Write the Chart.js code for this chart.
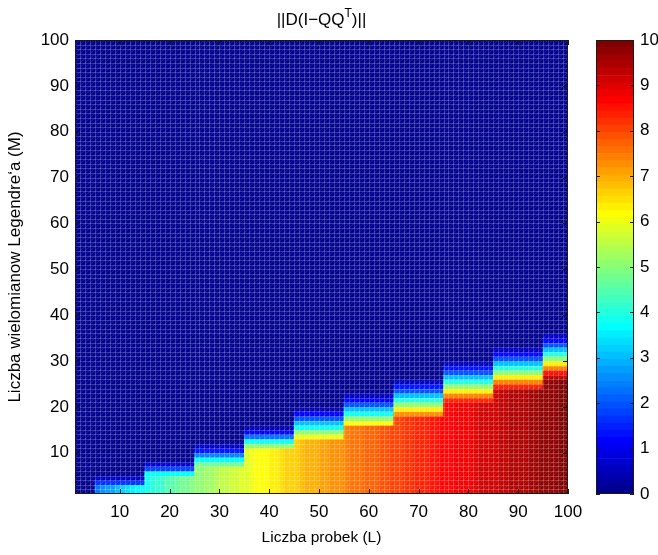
<!DOCTYPE html>
<html lang="pl">
<head>
<meta charset="UTF-8">
<title>||D(I-QQ^T)||</title>
<script src="https://cdn.jsdelivr.net/npm/chart.js"></script>
<style>
  body { margin: 0; background: #fff; }
  #wrap { position: relative; width: 658px; height: 555px; }
  #main { position: absolute; left: 0; top: 0; }
  #cbar { position: absolute; left: 580px; top: 0; }
</style>
</head>
<body>
<div id="wrap">
  <canvas id="main" width="658" height="555"></canvas>
  <canvas id="cbar" width="78" height="555"></canvas>
</div>
<script>
// tick labels
const xTicks = [10, 20, 30, 40, 50, 60, 70, 80, 90, 100];
const yTicks = [10, 20, 30, 40, 50, 60, 70, 80, 90, 100];
const cbTicks = [0, 1, 2, 3, 4, 5, 6, 7, 8, 9, 10];

// norm level reached in the filled part of each column L = 1..100
const colLevel = [
  0, 0, 0, 0, 2.3, 2.5, 2.7, 2.8, 3.0, 3.2,
  3.3, 3.5, 3.6, 3.7, 3.9, 4.0, 4.1, 4.2, 4.4, 4.5,
  4.6, 4.7, 4.8, 4.9, 5.0, 5.1, 5.2, 5.3, 5.4, 5.5,
  5.6, 5.7, 5.7, 5.8, 5.9, 6.0, 6.1, 6.2, 6.2, 6.3,
  6.4, 6.5, 6.6, 6.6, 6.7, 6.8, 6.9, 6.9, 7.0, 7.1,
  7.1, 7.2, 7.3, 7.3, 7.4, 7.5, 7.5, 7.6, 7.7, 7.7,
  7.8, 7.9, 7.9, 8.0, 8.1, 8.1, 8.2, 8.2, 8.3, 8.4,
  8.4, 8.5, 8.5, 8.6, 8.7, 8.7, 8.8, 8.8, 8.9, 8.9,
  9.0, 9.1, 9.1, 9.2, 9.2, 9.3, 9.3, 9.4, 9.4, 9.5,
  9.5, 9.6, 9.6, 9.7, 9.7, 9.8, 9.8, 9.9, 9.9, 10.0
];

// staircase: first L of each step, highest non-zero M, and values of the top rows (top row first)
const stepFirstL = [5, 15, 25, 35, 45, 55, 65, 75, 85, 95];
const stepTopM = [4, 7, 11, 15, 19, 22, 25, 29, 32, 35];
const stepFade = [
  [0.6, 1.6],
  [0.7, 1.8, 3.7],
  [0.6, 1.4, 2.4, 3.7, 4.8],
  [0.4, 1.0, 2.2, 3.8, 5.0],
  [0.4, 1.1, 2.0, 3.0, 3.9, 5.0, 6.0],
  [0.5, 1.2, 2.0, 3.0, 3.9, 5.0, 6.2],
  [0.6, 1.3, 2.0, 3.0, 4.0, 5.0, 6.3, 7.2],
  [0.6, 1.3, 2.0, 3.0, 4.0, 5.0, 6.3, 7.4, 8.3],
  [0.5, 1.2, 2.0, 3.0, 4.0, 5.0, 6.3, 7.4, 8.4],
  [0.5, 1.2, 2.0, 3.0, 4.0, 5.0, 6.3, 7.4, 8.5, 9.3]
];

const CMIN = 0, CMAX = 10;
const FONT = "'Liberation Sans', Arial, Helvetica, sans-serif";

// MATLAB style jet colormap
function jet(m) {
  const n = Math.ceil(m / 4);
  const u = [];
  for (let i = 1; i <= n; i++) u.push(i / n);
  for (let i = 1; i < n; i++) u.push(1);
  for (let i = n; i >= 1; i--) u.push(i / n);
  const off = Math.ceil(n / 2) - (m % 4 === 1 ? 1 : 0);
  const map = Array.from({ length: m }, () => [0, 0, 0]);
  u.forEach((val, i) => {
    const g = off + i, r = g + n, b = g - n;
    if (g < m) map[g][1] = val;
    if (r < m) map[r][0] = val;
    if (b >= 0) map[b][2] = val;
  });
  return map.map(c => `rgb(${Math.round(c[0] * 255)},${Math.round(c[1] * 255)},${Math.round(c[2] * 255)})`);
}
const cmap = jet(64);
const colorFor = v => cmap[Math.max(0, Math.min(63, Math.floor((v - CMIN) / (CMAX - CMIN) * 64)))];

function cellValue(L, M) {
  let s = -1;
  stepFirstL.forEach((f, i) => { if (L >= f) s = i; });
  if (s < 0 || M > stepTopM[s]) return 0;
  const k = stepTopM[s] - M;
  const base = colLevel[L - 1];
  return k < stepFade[s].length ? Math.min(stepFade[s][k], base) : base;
}

// one face per grid square, like surf
const cells = [];
for (let L = 1; L < 100; L++) {
  for (let M = 1; M < 100; M++) {
    cells.push({ x: L + 0.5, y: [M, M + 1], v: cellValue(L, M) });
  }
}

const tickFont = { family: FONT, size: 17 };

// face edges, inward ticks and axes box
const facets = {
  id: 'facets',
  afterDatasetsDraw(chart) {
    const { ctx, chartArea: a, scales: { x, y } } = chart;
    ctx.save();
    ctx.beginPath();
    ctx.rect(a.left, a.top, a.right - a.left, a.bottom - a.top);
    ctx.clip();
    ctx.lineWidth = 1;
    ctx.strokeStyle = 'rgba(255,255,255,0.13)';
    ctx.beginPath();
    for (let i = 1; i < 100; i++) {
      for (let j = 1; j < 100; j++) {
        ctx.moveTo(x.getPixelForValue(i), y.getPixelForValue(j));
        ctx.lineTo(x.getPixelForValue(i + 1), y.getPixelForValue(j + 1));
      }
    }
    ctx.stroke();
    ctx.strokeStyle = 'rgba(255,255,255,0.2)';
    ctx.beginPath();
    for (let v = 1; v <= 100; v++) {
      const px = Math.round(x.getPixelForValue(v)) + 0.5;
      const py = Math.round(y.getPixelForValue(v)) + 0.5;
      ctx.moveTo(px, a.top); ctx.lineTo(px, a.bottom);
      ctx.moveTo(a.left, py); ctx.lineTo(a.right, py);
    }
    ctx.stroke();
    ctx.restore();

    ctx.save();
    ctx.strokeStyle = '#1a1a1a';
    ctx.lineWidth = 1;
    ctx.beginPath();
    xTicks.forEach(v => {
      const px = Math.round(x.getPixelForValue(v)) + 0.5;
      ctx.moveTo(px, a.bottom); ctx.lineTo(px, a.bottom - 5);
      ctx.moveTo(px, a.top); ctx.lineTo(px, a.top + 5);
    });
    yTicks.forEach(v => {
      const py = Math.round(y.getPixelForValue(v)) + 0.5;
      ctx.moveTo(a.left, py); ctx.lineTo(a.left + 5, py);
      ctx.moveTo(a.right, py); ctx.lineTo(a.right - 5, py);
    });
    ctx.stroke();
    ctx.strokeRect(Math.round(a.left) + 0.5, Math.round(a.top) + 0.5,
      Math.round(a.right - a.left) - 1, Math.round(a.bottom - a.top) - 1);
    ctx.restore();
  },
  afterDraw(chart) {
    // title with superscript T
    const { ctx, chartArea: a } = chart;
    const parts = [['||D(I\u2212QQ', 17, 0], ['T', 12, -8], [')||', 17, 0]];
    ctx.save();
    ctx.fillStyle = '#000';
    ctx.textBaseline = 'alphabetic';
    let total = 0;
    parts.forEach(p => { ctx.font = `${p[1]}px ${FONT}`; total += ctx.measureText(p[0]).width; });
    let px = (a.left + a.right) / 2 - total / 2;
    parts.forEach(p => {
      ctx.font = `${p[1]}px ${FONT}`;
      ctx.fillText(p[0], px, 25 + p[2]);
      px += ctx.measureText(p[0]).width;
    });
    ctx.restore();
  }
};

new Chart(document.getElementById('main'), {
  type: 'bar',
  data: {
    datasets: [{
      data: cells,
      backgroundColor: cells.map(c => colorFor(c.v)),
      borderWidth: 0,
      barPercentage: 1,
      categoryPercentage: 1,
      grouped: false
    }]
  },
  options: {
    responsive: false,
    animation: false,
    events: [],
    layout: { padding: { left: 0, top: 40, right: 90, bottom: 0 } },
    plugins: { legend: { display: false }, tooltip: { enabled: false } },
    scales: {
      x: {
        type: 'linear', min: 1, max: 100, offset: false,
        grid: { display: false, drawTicks: false },
        border: { display: false },
        afterBuildTicks: s => { s.ticks = xTicks.map(v => ({ value: v })); },
        afterFit: s => { s.height = 61; },
        ticks: { color: '#000', font: tickFont, padding: 8, maxRotation: 0 },
        title: { display: true, text: 'Liczba probek (L)', color: '#000',
                 font: { family: FONT, size: 15.5 }, padding: { top: 0, bottom: 8 } }
      },
      y: {
        type: 'linear', min: 1, max: 100,
        grid: { display: false, drawTicks: false },
        border: { display: false },
        afterBuildTicks: s => { s.ticks = yTicks.map(v => ({ value: v })); },
        afterFit: s => { s.width = 75; },
        ticks: { color: '#000', font: tickFont, padding: 6 },
        title: { display: true, text: 'Liczba wielomianow Legendre\u2018a (M)', color: '#000',
                 font: { family: FONT, size: 17 }, padding: { top: 5, bottom: 0 } }
      }
    }
  },
  plugins: [facets]
});

// colour bar
const cbFrame = {
  id: 'cbFrame',
  afterDatasetsDraw(chart) {
    const { ctx, chartArea: a, scales: { y } } = chart;
    ctx.save();
    ctx.strokeStyle = '#1a1a1a';
    ctx.lineWidth = 1;
    ctx.beginPath();
    cbTicks.forEach(v => {
      const py = Math.round(y.getPixelForValue(v)) + 0.5;
      ctx.moveTo(a.left, py); ctx.lineTo(a.left + 4, py);
      ctx.moveTo(a.right, py); ctx.lineTo(a.right - 4, py);
    });
    ctx.stroke();
    ctx.strokeRect(Math.round(a.left) + 0.5, Math.round(a.top) + 0.5,
      Math.round(a.right - a.left) - 1, Math.round(a.bottom - a.top) - 1);
    ctx.restore();
  }
};

new Chart(document.getElementById('cbar'), {
  type: 'bar',
  data: {
    labels: [''],
    datasets: cmap.map((c, i) => ({
      data: [[CMIN + i * (CMAX - CMIN) / 64, CMIN + (i + 1) * (CMAX - CMIN) / 64]],
      backgroundColor: c,
      borderWidth: 0,
      barPercentage: 1,
      categoryPercentage: 1,
      grouped: false
    }))
  },
  options: {
    responsive: false,
    animation: false,
    events: [],
    layout: { padding: { left: 16, top: 40, right: 0, bottom: 61 } },
    plugins: { legend: { display: false }, tooltip: { enabled: false } },
    scales: {
      x: { display: false },
      y: {
        position: 'right', min: CMIN, max: CMAX,
        grid: { display: false, drawTicks: false },
        border: { display: false },
        afterBuildTicks: s => { s.ticks = cbTicks.map(v => ({ value: v })); },
        afterFit: s => { s.width = 24; },
        ticks: { color: '#000', font: tickFont, padding: 6 }
      }
    }
  },
  plugins: [cbFrame]
});
</script>
</body>
</html>
